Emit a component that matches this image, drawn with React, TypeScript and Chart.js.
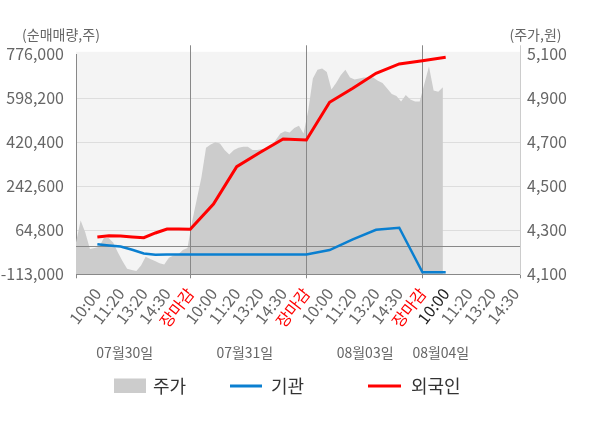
import { useEffect, useRef } from "react"
import { Chart, registerables } from "chart.js"

Chart.register(...registerables)

const FONT = '"Liberation Sans Narrow", "Noto Sans CJK KR", sans-serif'
const KFONT = '"Noto Sans CJK KR", sans-serif'

// x axis works in "slots": tick label i sits on slot i + 1, 장마감 closes each day
const tickLabels = [
  "10:00", "11:20", "13:20", "14:30", "장마감",
  "10:00", "11:20", "13:20", "14:30", "장마감",
  "10:00", "11:20", "13:20", "14:30", "장마감",
  "10:00", "11:20", "13:20", "14:30",
]
const CURRENT_TICK = 15
const X_MIN = 0.08
const X_MAX = 19.2

const dayLabels = ["07월30일", "07월31일", "08월03일", "08월04일"]
const dayLabelSlots = [2.18, 7.35, 12.53, 15.79]

// 주가 (원), sampled every PRICE_STEP slots from X_MIN
const PRICE_STEP = 0.2
const priceValues = [
  4245, 4345, 4290, 4215, 4220, 4225, 4265, 4265, 4245, 4200,
  4160, 4125, 4120, 4115, 4140, 4180, 4170, 4160, 4150, 4145,
  4175, 4185, 4190, 4210, 4220, 4340, 4440, 4540, 4675, 4690,
  4700, 4695, 4665, 4645, 4665, 4675, 4680, 4680, 4665, 4665,
  4670, 4670, 4680, 4710, 4740, 4750, 4745, 4765, 4775, 4740,
  4845, 4990, 5030, 5035, 5020, 4940, 4970, 5005, 5030, 4995,
  4985, 4990, 4995, 4995, 4995, 4980, 4970, 4945, 4920, 4910,
  4885, 4915, 4895, 4885, 4885, 4965, 5045, 4935, 4930, 4950,
]

// 순매매량 (주)
const lineSlots = [1, 1.5, 2, 2.5, 3, 3.5, 4, 4.5, 5, 6, 7, 8, 9, 10, 11, 12, 13, 14, 15, 16]
const foreignValues = [
  38000, 43000, 42000, 38000, 35000, 54000, 70000, 70000, 69000, 171000,
  322000, 379000, 434000, 430000, 582000, 639000, 699000, 737000, 750000, 764000,
]
const instValues = [
  8000, 3000, -1000, -14000, -29000, -34000, -33000, -33000, -33000, -33000,
  -33000, -33000, -33000, -33000, -15000, 28000, 67000, 75000, -105000, -105000,
]

const leftTicks = [-113000, 64800, 242600, 420400, 598200, 776000]
const rightTicks = [4100, 4300, 4500, 4700, 4900, 5100]

const GREY = "#cccccc"
const BLUE = "#0a7fd0"
const RED = "#ff0000"

const closeSlots = tickLabels
  .map((l, i) => (l === "장마감" ? i + 1 : null))
  .filter((v) => v !== null) as number[]

const overlay = {
  id: "overlay",
  beforeDraw(chart: any) {
    const { ctx, chartArea: a } = chart
    ctx.save()
    ctx.fillStyle = "#f4f4f4"
    ctx.fillRect(a.left, a.top - 2.5, a.right - a.left, a.bottom - a.top + 2.5)
    ctx.restore()
  },
  afterDatasetDraw(chart: any, args: any) {
    if (args.index !== 0) return
    const { ctx, chartArea: a, scales } = chart
    ctx.save()
    ctx.lineWidth = 1
    ctx.strokeStyle = "#888888"
    const y0 = Math.round(scales.y.getPixelForValue(0)) + 0.5
    ctx.beginPath()
    ctx.moveTo(a.left, y0)
    ctx.lineTo(a.right, y0)
    ctx.stroke()
    closeSlots.forEach((s) => {
      const x = Math.round(scales.x.getPixelForValue(s)) + 0.5
      ctx.beginPath()
      ctx.moveTo(x, a.top - 9)
      ctx.lineTo(x, a.bottom)
      ctx.stroke()
    })
    ctx.strokeStyle = "#cccccc"
    ctx.beginPath()
    ctx.moveTo(Math.round(a.right) + 0.5, a.top - 9)
    ctx.lineTo(Math.round(a.right) + 0.5, a.top)
    ctx.stroke()
    ctx.restore()
  },
  afterDraw(chart: any) {
    const { ctx, scales } = chart
    ctx.save()
    ctx.textBaseline = "middle"
    ctx.fillStyle = "#666666"
    ctx.font = "14px " + KFONT
    ctx.textAlign = "center"
    ctx.fillText("(순매매량,주)", 61, 34.5)
    ctx.fillText("(주가,원)", 535.5, 34.5)

    ctx.font = "14px " + FONT
    dayLabels.forEach((d, i) => {
      ctx.fillText(d, scales.x.getPixelForValue(dayLabelSlots[i]), 353)
    })

    // legend
    ctx.textAlign = "left"
    ctx.font = "18px " + KFONT
    ctx.fillStyle = GREY
    ctx.fillRect(114, 378.5, 32, 14.5)
    ctx.lineWidth = 3
    ctx.strokeStyle = BLUE
    ctx.beginPath()
    ctx.moveTo(230, 386)
    ctx.lineTo(262, 386)
    ctx.stroke()
    ctx.strokeStyle = RED
    ctx.beginPath()
    ctx.moveTo(368, 386)
    ctx.lineTo(401, 386)
    ctx.stroke()
    ctx.fillStyle = "#333333"
    ctx.fillText("주가", 153, 386)
    ctx.fillText("기관", 271, 386)
    ctx.fillText("외국인", 411, 386)
    ctx.restore()
  },
}

export default function App() {
  const chartRef = useRef<HTMLCanvasElement>(null)
  const chartInstance = useRef<Chart | null>(null)

  useEffect(() => {
    document.body.style.margin = "0"
    if (!chartRef.current) return
    if (chartInstance.current) chartInstance.current.destroy()
    const ctx = chartRef.current.getContext("2d")
    if (!ctx) return

    chartInstance.current = new Chart(ctx, {
      type: "line",
      data: {
        datasets: [
          {
            label: "주가",
            data: priceValues.map((v, i) => ({ x: X_MIN + i * PRICE_STEP, y: v })),
            yAxisID: "yPrice",
            fill: "start",
            backgroundColor: GREY,
            borderWidth: 0,
            pointRadius: 0,
            order: 3,
          },
          {
            label: "기관",
            data: instValues.map((v, i) => ({ x: lineSlots[i], y: v })),
            yAxisID: "y",
            borderColor: BLUE,
            borderWidth: 2.5,
            pointRadius: 0,
            fill: false,
            order: 2,
          },
          {
            label: "외국인",
            data: foreignValues.map((v, i) => ({ x: lineSlots[i], y: v })),
            yAxisID: "y",
            borderColor: RED,
            borderWidth: 3,
            pointRadius: 0,
            fill: false,
            order: 1,
          },
        ],
      },
      options: {
        responsive: true,
        maintainAspectRatio: false,
        animation: false,
        layout: { padding: { top: 54.3, left: 0, right: 0, bottom: 0 } },
        plugins: {
          legend: { display: false },
          tooltip: { enabled: false },
        },
        scales: {
          x: {
            type: "linear",
            position: "bottom",
            min: X_MIN,
            max: X_MAX,
            afterBuildTicks: (scale: any) => {
              scale.ticks = [X_MIN, ...tickLabels.map((_, i) => i + 1), X_MAX].map((v) => ({ value: v }))
            },
            afterFit: (scale: any) => {
              scale.height = 428 - 274.3
            },
            ticks: {
              autoSkip: false,
              minRotation: 52,
              maxRotation: 52,
              padding: 6,
              font: { family: FONT, size: 16 },
              color: (c: any) => {
                const l = tickLabels[c.index - 1]
                if (l === "장마감") return RED
                if (c.index - 1 === CURRENT_TICK) return "#222222"
                return "#666666"
              },
              callback: (_v: any, i: number) => tickLabels[i - 1] ?? "",
            },
            grid: {
              drawOnChartArea: false,
              drawTicks: true,
              tickLength: 4,
              tickColor: (c: any) => {
                const last = c.index === tickLabels.length + 1
                return c.index === 0 || last || tickLabels[c.index - 1] === "장마감" ? "#888888" : "rgba(0,0,0,0)"
              },
            },
            border: { color: "#888888" },
          },
          y: {
            type: "linear",
            position: "left",
            min: leftTicks[0],
            max: leftTicks[leftTicks.length - 1],
            afterBuildTicks: (scale: any) => {
              scale.ticks = leftTicks.map((v) => ({ value: v }))
            },
            afterFit: (scale: any) => {
              scale.width = 76
            },
            ticks: {
              padding: 12,
              color: "#666666",
              font: { family: FONT, size: 16 },
              callback: (v: any) => Number(v).toLocaleString("en-US"),
            },
            grid: {
              drawTicks: false,
              color: (c: any) => (c.tick && c.tick.value === leftTicks[leftTicks.length - 1] ? "rgba(0,0,0,0)" : "#dddddd"),
            },
            border: { color: "#888888" },
          },
          yPrice: {
            type: "linear",
            position: "right",
            min: rightTicks[0],
            max: rightTicks[rightTicks.length - 1],
            afterBuildTicks: (scale: any) => {
              scale.ticks = rightTicks.map((v) => ({ value: v }))
            },
            afterFit: (scale: any) => {
              scale.width = 80
            },
            ticks: {
              padding: 7,
              color: "#666666",
              font: { family: FONT, size: 16 },
              callback: (v: any) => Number(v).toLocaleString("en-US"),
            },
            grid: { drawOnChartArea: false, drawTicks: false },
            border: { color: "#cccccc" },
          },
        },
      },
      plugins: [overlay],
    })

    return () => {
      if (chartInstance.current) {
        chartInstance.current.destroy()
        chartInstance.current = null
      }
    }
  }, [])

  return (
    <div style={{ width: 600, height: 428, position: "relative" }}>
      <canvas ref={chartRef} />
    </div>
  )
}
